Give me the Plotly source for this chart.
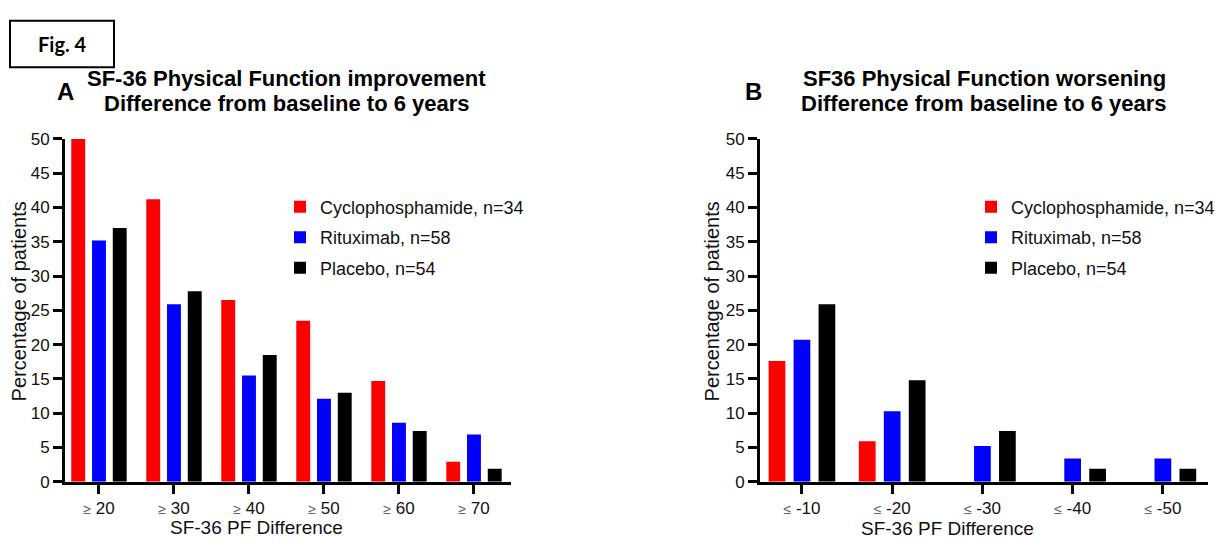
import plotly.graph_objects as go

# ---- Data (percent of patients) ----
categories_a = ["≥ 20", "≥ 30", "≥ 40", "≥ 50", "≥ 60", "≥ 70"]
tick_numbers_a = ["20", "30", "40", "50", "60", "70"]
cyclo_a = [50.0, 41.2, 26.5, 23.5, 14.7, 2.9]
ritux_a = [35.2, 25.9, 15.5, 12.1, 8.6, 6.9]
placebo_a = [37.0, 27.8, 18.5, 13.0, 7.4, 1.9]

categories_b = ["≤ -10", "≤ -20", "≤ -30", "≤ -40", "≤ -50"]
tick_numbers_b = ["-10", "-20", "-30", "-40", "-50"]
cyclo_b = [17.6, 5.9, 0.0, 0.0, 0.0]
ritux_b = [20.7, 10.3, 5.2, 3.4, 3.4]
placebo_b = [25.9, 14.8, 7.4, 1.9, 1.9]

series_names = ["Cyclophosphamide, n=34", "Rituximab, n=58", "Placebo, n=54"]
series_colors = ["#FF0000", "#0000FF", "#000000"]

y_ticks = [0, 5, 10, 15, 20, 25, 30, 35, 40, 45, 50]

# page body has an 8px margin on every side; size the figure so the page fits the window
OFF = 8
W, H = 1228 - 2 * OFF, 547 - 2 * OFF
FONT = "Liberation Sans, Arial, sans-serif"


def px(x):
    return (x - OFF) / W


def py(y):
    return 1 - (y - OFF) / H


fig = go.Figure()

for name, color, vals in zip(series_names, series_colors, [cyclo_a, ritux_a, placebo_a]):
    fig.add_trace(go.Bar(x=categories_a, y=vals, name=name, marker_color=color,
                         marker_line_width=0, xaxis="x", yaxis="y",
                         legend="legend", legendgroup=name + "A"))

for name, color, vals in zip(series_names, series_colors, [cyclo_b, ritux_b, placebo_b]):
    fig.add_trace(go.Bar(x=categories_b, y=vals, name=name, marker_color=color,
                         marker_line_width=0, xaxis="x2", yaxis="y2",
                         legend="legend2", legendgroup=name + "B"))

sym = "<span style='font-size:14px;color:#666666'>%s</span> %s"
ticktext_a = [sym % ("≥", n) for n in tick_numbers_a]
ticktext_b = [sym % ("≤", n) for n in tick_numbers_b]

axis_common = dict(showline=True, linewidth=3, linecolor="black", ticks="outside",
                   ticklen=9, tickwidth=2.5, tickcolor="black", showgrid=False,
                   zeroline=False, tickfont=dict(family=FONT, size=17, color="#111111"))

fig.update_layout(
    width=W, height=H,
    margin=dict(l=0, r=0, t=0, b=0),
    paper_bgcolor="white", plot_bgcolor="white",
    barmode="group", bargap=0.17, bargroupgap=0.33,
    font=dict(family=FONT, color="#111111"),
    xaxis=dict(domain=[px(65), px(510.5)], range=[-0.453, 5.487], anchor="y",
               tickmode="array", tickvals=categories_a, ticktext=ticktext_a, **axis_common),
    yaxis=dict(domain=[py(490), py(134.5)], range=[0, 50], anchor="x",
               tickmode="array", tickvals=y_ticks, **axis_common),
    xaxis2=dict(domain=[px(760), px(1208)], range=[-0.465, 4.5], anchor="y2",
                tickmode="array", tickvals=categories_b, ticktext=ticktext_b, **axis_common),
    yaxis2=dict(domain=[py(490), py(134.5)], range=[0, 50], anchor="x2",
                tickmode="array", tickvals=y_ticks, **axis_common),
    legend=dict(x=px(280), y=py(186), xanchor="left", yanchor="top",
                font=dict(family=FONT, size=18, color="#111111"),
                bgcolor="rgba(0,0,0,0)", tracegroupgap=4),
    legend2=dict(x=px(971), y=py(186), xanchor="left", yanchor="top",
                 font=dict(family=FONT, size=18, color="#111111"),
                 bgcolor="rgba(0,0,0,0)", tracegroupgap=4),
)

annotations = [
    # Fig label
    dict(text="<b>Fig. 4</b>", x=px(62), y=py(36), font=dict(family="Lato, sans-serif", size=20, color="black")),
    # Panel letters
    dict(text="<b>A</b>", x=px(65), y=py(85), font=dict(family=FONT, size=24, color="black")),
    dict(text="<b>B</b>", x=px(753), y=py(85), font=dict(family=FONT, size=24, color="black")),
    # Panel titles
    dict(text="<b>SF-36 Physical Function improvement</b>", x=px(286.5), y=py(72),
         font=dict(family=FONT, size=22, color="black")),
    dict(text="<b>Difference from baseline to 6 years</b>", x=px(286.5), y=py(98),
         font=dict(family=FONT, size=22, color="black")),
    dict(text="<b>SF36 Physical Function worsening</b>", x=px(984), y=py(72),
         font=dict(family=FONT, size=22, color="black")),
    dict(text="<b>Difference from baseline to 6 years</b>", x=px(984), y=py(98),
         font=dict(family=FONT, size=22, color="black")),
    # Axis titles
    dict(text="SF-36 PF Difference", x=px(257), y=py(537), font=dict(family=FONT, size=19, color="#111111")),
    dict(text="SF-36 PF Difference", x=px(948), y=py(538), font=dict(family=FONT, size=19, color="#111111")),
    dict(text="Percentage of patients", x=px(19), y=py(303), textangle=-90,
         font=dict(family=FONT, size=20, color="#111111")),
    dict(text="Percentage of patients", x=px(712), y=py(303), textangle=-90,
         font=dict(family=FONT, size=20, color="#111111")),
]
for a in annotations:
    a.update(xref="paper", yref="paper", showarrow=False, xanchor="center", yanchor="middle")
fig.update_layout(annotations=annotations)

fig.add_shape(type="rect", xref="paper", yref="paper", x0=px(10), x1=px(114),
              y0=py(60), y1=py(12), line=dict(color="black", width=2))

fig.write_html("out.html")
